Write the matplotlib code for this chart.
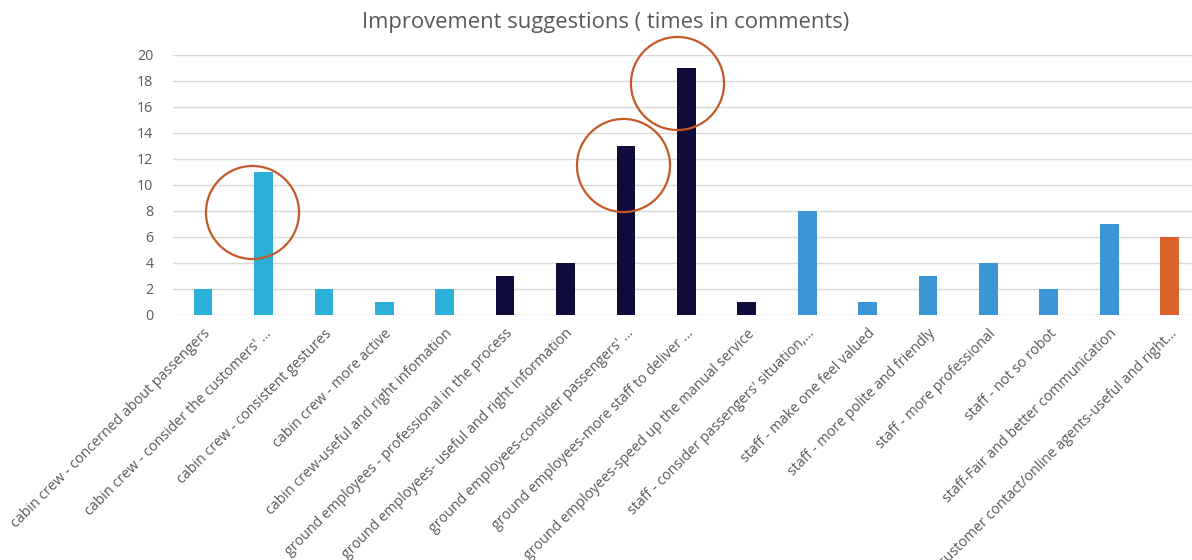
import matplotlib.pyplot as plt

plt.rcParams['font.family'] = ['Open Sans', 'DejaVu Sans']

# suggestion categories and how many times each came up
labels = [
    "cabin crew - concerned about passengers",
    "cabin crew - consider the customers' …",
    "cabin crew - consistent gestures",
    "cabin crew - more active",
    "cabin crew-useful and right infomation",
    "ground employees - professional in the process",
    "ground employees- useful and right information",
    "ground employees-consider passengers' …",
    "ground employees-more staff to deliver …",
    "ground employees-speed up the manual service",
    "staff - consider passengers' situation,…",
    "staff - make one feel valued",
    "staff - more polite and friendly",
    "staff - more professional",
    "staff - not so robot",
    "staff-Fair and better communication",
    "customer contact/online agents-useful and right…",
]
counts = [2, 11, 2, 1, 2, 3, 4, 13, 19, 1, 8, 1, 3, 4, 2, 7, 6]
groups = ["cabin"] * 5 + ["ground"] * 5 + ["staff"] * 6 + ["online"]

group_colors = {
    "cabin": "#2DB0D8",
    "ground": "#0F0C3C",
    "staff": "#3A96D5",
    "online": "#D9632A",
}

# highlighted spots (x in category units, y in counts)
circle_x = [0.81, 6.95, 7.85]
circle_y = [7.9, 11.5, 17.8]

fig = plt.figure(figsize=(11.92, 5.6), dpi=100)
ax = fig.add_axes([0.145, 0.4375, 0.855, 0.4645])

x = list(range(len(labels)))
ax.bar(x, counts, width=0.31, color=[group_colors[g] for g in groups], zorder=3)

ax.set_ylim(0, 20)
ax.set_xlim(-0.5, 16.37)
ax.set_yticks(range(0, 21, 2))
ax.grid(axis='y', color='#D9D9D9', linewidth=1, zorder=0)
for s in ax.spines.values():
    s.set_visible(False)
ax.tick_params(axis='both', length=0, colors='#595959', labelsize=10.3)
ax.tick_params(axis='y', pad=14)

ax.set_xticks(x)
ax.set_xticklabels(labels, rotation=45, ha='right', rotation_mode='anchor',
                   fontsize=10.3, color='#595959')
ax.tick_params(axis='x', pad=8)

ax.plot(circle_x, circle_y, 'o', ms=67, mfc='none', mec='#C55A28', mew=1.6,
        clip_on=False, zorder=4)

fig.text(0.508, 0.96, "Improvement suggestions ( times in comments)",
         ha='center', va='center', fontsize=15.8, color='#595959')

fig.savefig("out.png", dpi=100)
